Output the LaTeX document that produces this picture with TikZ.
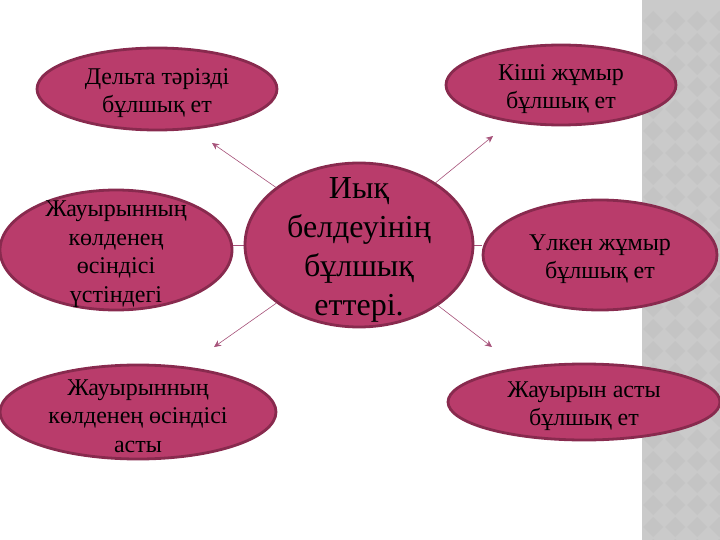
\documentclass[tikz,border=0pt]{standalone}
\usepackage{fontspec}
\setmainfont{Liberation Serif}
\usetikzlibrary{shapes.geometric, positioning, arrows.meta, backgrounds}
\definecolor{musclefill}{RGB}{185,60,107}
\definecolor{muscledraw}{RGB}{136,42,78}
\definecolor{linkcolor}{RGB}{165,80,120}
\definecolor{stripgray}{RGB}{202,202,202}
\definecolor{stripdark}{RGB}{196,196,196}
\tikzset{muscle/.style = {ellipse, fill=musclefill, draw=muscledraw, line width=2.8pt, inner sep=0pt}}
\tikzset{lbl/.style = {align=center, text=black, yshift=-4pt, font=\fontsize{24}{28.5}\selectfont}}
\tikzset{hublbl/.style = {align=center, text=black, yshift=-5pt, font=\fontsize{32}{39}\selectfont}}
\tikzset{link/.style = {draw=linkcolor, line width=0.6pt, -{Stealth[length=7pt,width=6.5pt]}}}
\tikzset{plain/.style = {draw=linkcolor, line width=0.6pt}}

\begin{document}
\begin{tikzpicture}[x=1pt, y=-1pt]
\useasboundingbox (0,0) rectangle (720,540);
% gray strip on the right
\fill[stripgray] (642,0) rectangle (720,540);
\begin{scope}
\clip (642,0) rectangle (720,540);
\foreach \i in {0,...,3}
  \foreach \j in {0,...,25}
    \fill[stripdark] (653+22*\i,11+22*\j) -- ++(10,10) -- ++(-10,10) -- ++(-10,-10) -- cycle;
\end{scope}

\node [muscle, minimum width=228, minimum height=164, label={[hublbl]center:Иық\\белдеуінің\\бұлшық\\еттері.}] (hub) at (359,245) {};
\node [muscle, minimum width=240, minimum height=82, label={[lbl]center:Дельта тәрізді\\бұлшық ет}] (delta) at (157,89) {};
\node [muscle, minimum width=230, minimum height=80, label={[lbl]center:Кіші жұмыр\\бұлшық ет}] (minor) at (561,85) {};
\node [muscle, minimum width=232, minimum height=120, label={[lbl]center:Жауырынның\\көлденең\\өсіндісі\\үстіндегі}] (supra) at (116,250) {};
\node [muscle, minimum width=234, minimum height=110, label={[lbl]center:Үлкен жұмыр\\бұлшық ет}] (major) at (600,255) {};
\node [muscle, minimum width=276, minimum height=94, label={[lbl]center:Жауырынның\\көлденең өсіндісі\\асты}] (infra) at (138,412) {};
\node [muscle, minimum width=272, minimum height=76, label={[lbl]center:Жауырын асты\\бұлшық ет}] (subscap) at (584,402) {};

\coordinate (tipdelta) at (212,143);
\coordinate (tipminor) at (493,136);
\coordinate (tipinfra) at (214,347);
\coordinate (tipsubscap) at (492,347);

\begin{scope}[on background layer]
\draw [link] (hub) -- (tipdelta);
\draw [link] (hub) -- (tipminor);
\draw [link] (hub) -- (tipinfra);
\draw [link] (hub) -- (tipsubscap);
\draw [plain] (hub.west) -- (hub.west -| supra.east);
\draw [plain] (hub.east) -- (hub.east -| major.west);
\end{scope}
\end{tikzpicture}
\end{document}
